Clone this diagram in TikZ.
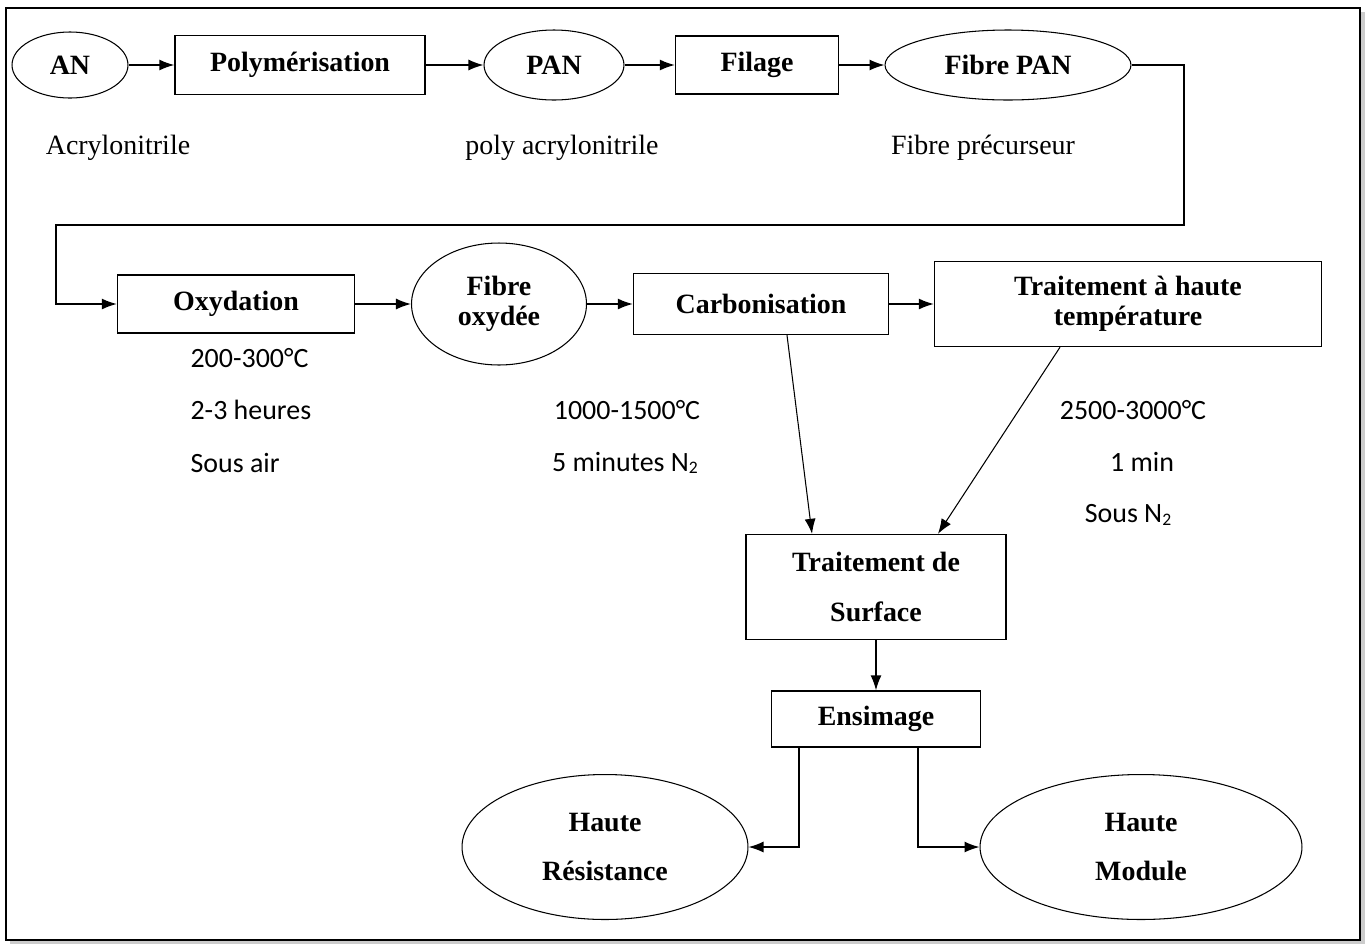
\documentclass[tikz,border=0pt]{standalone}
\usepackage{fontspec}
\setmainfont{Liberation Serif}
\newfontfamily\calibrifont{Carlito}
\usetikzlibrary{shapes.geometric,arrows.meta}
\newcommand{\subtwo}{{\fontsize{10}{10}\selectfont\raisebox{-1.5pt}{2}}}

\begin{document}
\begin{tikzpicture}[x=0.02cm, y=-0.02cm, line width=0.8pt,
    procbox/.style={draw, rectangle, inner sep=0pt, align=center,
        font=\bfseries\fontsize{15.9}{17}\selectfont},
    prodell/.style={draw, ellipse, inner sep=0pt, align=center, line width=0.6pt,
        font=\bfseries\fontsize{15.9}{17}\selectfont},
    note/.style={font=\fontsize{15.9}{19}\selectfont},
    cond/.style={font=\calibrifont\fontsize{15.9}{19}\selectfont},
    flow/.style={-{Latex[length=0.3cm,width=0.22cm]}}]
    \useasboundingbox (0,0) rectangle (1366,944);
    % cadre
    \draw[gray!40, line width=2pt] (10,942) -- (1363,942) -- (1363,12);
    \draw[line width=1.2pt] (6,8) rectangle (1360,940);

    % ligne 1
    \node[prodell, minimum width=2.32cm, minimum height=1.32cm] (an) at (70,65) {AN};
    \node[procbox, minimum width=5cm, minimum height=1.18cm] (poly) at (300,65) {Polymérisation};
    \node[prodell, minimum width=2.8cm, minimum height=1.4cm] (pan) at (554,65) {PAN};
    \node[procbox, minimum width=3.26cm, minimum height=1.16cm] (fil) at (757,65) {Filage};
    \node[prodell, minimum width=4.92cm, minimum height=1.4cm] (fpan) at (1008,65) {Fibre PAN};

    \node[note] (acr) at (118,148) {Acrylonitrile};
    \node[note] (pacr) at (562,148) {poly acrylonitrile};
    \node[note] (fprec) at (983,148) {Fibre précurseur};

    \draw[flow] (an) -- (poly);
    \draw[flow] (poly) -- (pan);
    \draw[flow] (pan) -- (fil);
    \draw[flow] (fil) -- (fpan);

    % ligne 2
    \node[procbox, minimum width=4.74cm, minimum height=1.16cm] (oxy) at (236,304) {Oxydation};
    \node[prodell, minimum width=3.5cm, minimum height=2.44cm] (fox) at (499,304) {Fibre\\oxydée};
    \node[procbox, minimum width=5.1cm, minimum height=1.22cm] (carb) at (761,304) {Carbonisation};
    \node[procbox, minimum width=7.74cm, minimum height=1.7cm] (tht) at (1128,304) {Traitement à haute\\température};

    \coordinate (turnA) at (1184,225);
    \coordinate (turnB) at (56,225);
    \draw[flow] (fpan.east) -| (turnA) -- (turnB) |- (oxy.west);
    \draw[flow] (oxy) -- (fox);
    \draw[flow] (fox) -- (carb);
    \draw[flow] (carb) -- (tht);

    \node[cond, anchor=west] (t1) at (184,358) {200-300°C};
    \node[cond, anchor=west] (d1) at (184,410) {2-3 heures};
    \node[cond, anchor=west] (a1) at (184,463) {Sous air};
    \node[cond] (t2) at (627,410) {1000-1500°C};
    \node[cond] (d2) at (625,463) {5 minutes N\subtwo};
    \node[cond] (t3) at (1133,410) {2500-3000°C};
    \node[cond] (d3) at (1142,462) {1 min};
    \node[cond] (a3) at (1128,515) {Sous N\subtwo};

    % surface et ensimage
    \node[procbox, minimum width=5.2cm, minimum height=2.1cm] (tds) at (876,587) {Traitement de\\[11pt]Surface};
    \node[procbox, minimum width=4.18cm, minimum height=1.12cm] (ens) at (876,719) {Ensimage};

    \draw[flow, line width=0.6pt] ([xshift=0.52cm]carb.south) -- ([xshift=-1.28cm]tds.north);
    \draw[flow, line width=0.6pt] ([xshift=-1.36cm]tht.south) -- ([xshift=1.24cm]tds.north);
    \draw[flow] (tds) -- (ens);

    % produits finaux
    \node[prodell, minimum width=5.72cm, minimum height=2.9cm] (hr) at (605,847) {Haute\\[11pt]Résistance};
    \node[prodell, minimum width=6.44cm, minimum height=2.9cm] (hm) at (1141,847) {Haute\\[11pt]Module};

    \draw[flow] ([xshift=-1.54cm]ens.south) |- (hr.east);
    \draw[flow] ([xshift=0.84cm]ens.south) |- (hm.west);
\end{tikzpicture}
\end{document}
